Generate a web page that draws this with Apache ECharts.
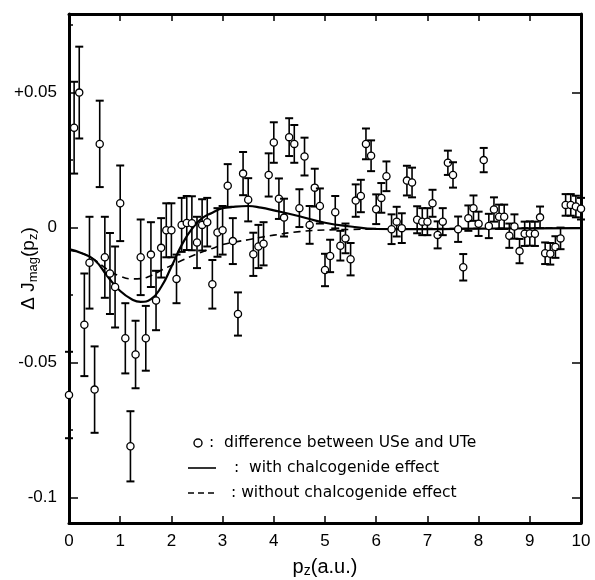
<!DOCTYPE html>
<html>
<head>
<meta charset="utf-8">
<script src="https://cdn.jsdelivr.net/npm/echarts@6/dist/echarts.min.js"></script>
<style>
  html, body { margin: 0; padding: 0; background: #fff; }
  #chart { width: 595px; height: 580px; }
</style>
</head>
<body>
<div id="chart"></div>
<script>
// measured points: p_z, delta J, error
const pz = [
  0.0, 0.1, 0.2, 0.3, 0.4, 0.5, 0.6, 0.7, 0.8, 0.9,
  1.0, 1.1, 1.2, 1.3, 1.4, 1.5, 1.6, 1.7, 1.8, 1.9,
  2.0, 2.1, 2.2, 2.3, 2.4, 2.5, 2.6, 2.7, 2.8, 2.9,
  3.0, 3.1, 3.2, 3.3, 3.4, 3.5, 3.6, 3.7, 3.8, 3.9,
  4.0, 4.1, 4.2, 4.3, 4.4, 4.5, 4.6, 4.7, 4.8, 4.9,
  5.0, 5.1, 5.2, 5.3, 5.4, 5.5, 5.6, 5.7, 5.8, 5.9,
  6.0, 6.1, 6.2, 6.3, 6.4, 6.5, 6.6, 6.7, 6.8, 6.9,
  7.0, 7.1, 7.2, 7.3, 7.4, 7.5, 7.6, 7.7, 7.8, 7.9,
  8.0, 8.1, 8.2, 8.3, 8.4, 8.5, 8.6, 8.7, 8.8, 8.9,
  9.0, 9.1, 9.2, 9.3, 9.4, 9.5, 9.6, 9.7, 9.8, 9.9,
  10.0
]
const diffJ = [
  -0.062, 0.037, 0.050, -0.036, -0.013, -0.060, 0.031, -0.011, -0.017, -0.022,
  0.009, -0.041, -0.081, -0.047, -0.011, -0.041, -0.010, -0.027, -0.0075, -0.001,
  -0.001, -0.019, 0.001, 0.0017, 0.0016, -0.0055, 0.001, 0.002, -0.021, -0.0018,
  -0.001, 0.0155, -0.005, -0.032, 0.020, 0.0103, -0.0099, -0.007, -0.006, 0.0195,
  0.0315, 0.0107, 0.0037, 0.0335, 0.031, 0.0072, 0.0263, 0.001, 0.0148, 0.008,
  -0.0157, -0.0105, 0.0057, -0.0067, -0.004, -0.0117, 0.010, 0.0117, 0.031, 0.0266,
  0.0068, 0.011, 0.019, -0.0006, 0.0022, -0.0002, 0.0174, 0.0167, 0.0029, 0.0022,
  0.0022, 0.009, -0.0027, 0.0022, 0.024, 0.0195, -0.0006, -0.0147, 0.0035, 0.0072,
  0.0014, 0.025, 0.0006, 0.0067, 0.004, 0.004, -0.003, 0.0004, -0.0087, -0.0023,
  -0.0022, -0.0023, 0.0038, -0.0095, -0.0097, -0.0072, -0.004, 0.0084, 0.0084, 0.0078,
  0.007
]
const errJ = [
  0.016, 0.017, 0.017, 0.019, 0.017, 0.016, 0.016, 0.015, 0.015, 0.015,
  0.014, 0.013, 0.013, 0.0125, 0.014, 0.012, 0.012, 0.011, 0.011, 0.010,
  0.010, 0.009, 0.010, 0.010, 0.010, 0.0095, 0.0095, 0.009, 0.009, 0.009,
  0.009, 0.008, 0.0085, 0.008, 0.008, 0.008, 0.008, 0.008, 0.008, 0.008,
  0.0075, 0.0075, 0.007, 0.007, 0.007, 0.007, 0.007, 0.007, 0.007, 0.0065,
  0.006, 0.006, 0.006, 0.0055, 0.0055, 0.006, 0.006, 0.006, 0.0057, 0.0057,
  0.0055, 0.0055, 0.0055, 0.0055, 0.0055, 0.0055, 0.0055, 0.0055, 0.005, 0.005,
  0.005, 0.005, 0.005, 0.005, 0.0045, 0.0047, 0.0047, 0.0049, 0.0047, 0.0047,
  0.0045, 0.0045, 0.0045, 0.0045, 0.0045, 0.0045, 0.0045, 0.0045, 0.0045, 0.0045,
  0.0045, 0.0045, 0.004, 0.004, 0.004, 0.004, 0.004, 0.004, 0.004, 0.004,
  0.004
]

// theory curves
const curveX = [0, 0.25, 0.5, 0.75, 1.0, 1.25, 1.4, 1.6, 1.8, 2.0, 2.2, 2.4, 2.6, 2.8, 3.0, 3.25, 3.5, 3.75, 4.0, 4.5, 5.0, 5.5, 6.0, 7.0, 8.0, 9.0, 10.0]
const withChalc = [-0.008, -0.0095, -0.012, -0.018, -0.0235, -0.0268, -0.0275, -0.0265, -0.022, -0.0145, -0.0065, -0.0005, 0.0035, 0.0055, 0.0072, 0.0078, 0.008, 0.0074, 0.0064, 0.0042, 0.0018, 0.0004, -0.0005, -0.0006, -0.0004, -0.0003, -0.0002]
const withoutChalc = [-0.0085, -0.0095, -0.012, -0.0155, -0.018, -0.019, -0.0189, -0.0178, -0.0158, -0.014, -0.0122, -0.0105, -0.009, -0.0077, -0.0063, -0.0053, -0.0045, -0.0036, -0.0028, -0.0015, -0.0009, -0.0007, -0.0005, -0.0004, -0.0003, -0.0002, -0.0002]

const yTicks = [-0.1, -0.05, 0, 0.05]
const yMinorTicks = [-0.075, -0.025, 0.025, 0.075]

const chart = echarts.init(document.getElementById('chart'), null, { renderer: 'canvas' })

function errorBar(params, api) {
  const x = api.value(0)
  const y = api.value(1)
  const e = api.value(2)
  const c = api.coord([x, y])
  const hi = api.coord([x, y + e])
  const lo = api.coord([x, y - e])
  const w = 4
  return {
    type: 'group',
    children: [
      { type: 'line', shape: { x1: c[0], y1: hi[1], x2: c[0], y2: lo[1] }, style: { stroke: '#000', lineWidth: 1.6 } },
      { type: 'line', shape: { x1: c[0] - w, y1: hi[1], x2: c[0] + w, y2: hi[1] }, style: { stroke: '#000', lineWidth: 2 } },
      { type: 'line', shape: { x1: c[0] - w, y1: lo[1], x2: c[0] + w, y2: lo[1] }, style: { stroke: '#000', lineWidth: 2 } },
      { type: 'circle', shape: { cx: c[0], cy: c[1], r: 3.6 }, style: { fill: '#fff', stroke: '#000', lineWidth: 1.3 } }
    ]
  }
}

const axisLine = { show: true, onZero: false, lineStyle: { color: '#000', width: 3 } }
const fontFam = 'Liberation Sans, Arial, sans-serif'
const legendFont = 'DejaVu Sans, sans-serif'
const yMin = -0.1094
const yMax = 0.0791

chart.setOption({
  backgroundColor: '#fff',
  animation: false,
  grid: { left: 69, right: 14, top: 14, bottom: 57, outerBoundsMode: 'none', containLabel: false },
  xAxis: [
    {
      type: 'value', min: 0, max: 10, interval: 1, position: 'bottom',
      axisLine,
      axisTick: { inside: true, length: 7, lineStyle: { color: '#000', width: 1.5 } },
      axisLabel: { color: '#000', fontSize: 17, fontFamily: fontFam, margin: 10 },
      splitLine: { show: false },
      name: '{a|p}{s|z}{a|(a.u.)}',
      nameLocation: 'middle',
      nameGap: 33,
      nameMoveOverlap: false,
      nameTextStyle: {
        rich: {
          a: { fontSize: 20, fontFamily: fontFam, color: '#000', lineHeight: 22 },
          s: { fontSize: 14, fontFamily: fontFam, color: '#000', lineHeight: 14, verticalAlign: 'bottom' }
        }
      }
    },
    {
      type: 'value', min: 0, max: 10, interval: 1, position: 'top',
      axisLine,
      axisTick: { inside: true, length: 7, lineStyle: { color: '#000', width: 1.5 } },
      axisLabel: { show: false },
      splitLine: { show: false }
    }
  ],
  yAxis: [
    {
      type: 'value', min: yMin, max: yMax, position: 'left',
      axisLine,
      axisTick: { inside: true, length: 9, customValues: yTicks, lineStyle: { color: '#000', width: 1.5 } },
      axisLabel: {
        color: '#000', fontSize: 17, fontFamily: fontFam, margin: 12,
        customValues: yTicks,
        formatter: v => (v > 0 ? '+' : '') + (Math.abs(v) < 1e-9 ? '0' : String(+v.toFixed(3)))
      },
      splitLine: { show: false },
      name: '{a|Δ J}{s|mag}{a|(p}{s|z}{a|)}',
      nameLocation: 'middle',
      nameRotate: 90,
      nameGap: 29,
      nameMoveOverlap: false,
      nameTextStyle: {
        rich: {
          a: { fontSize: 19, fontFamily: fontFam, color: '#000', lineHeight: 22 },
          s: { fontSize: 13, fontFamily: fontFam, color: '#000', lineHeight: 13, verticalAlign: 'bottom' }
        }
      }
    },
    {
      type: 'value', min: yMin, max: yMax, position: 'right',
      axisLine,
      axisTick: { inside: true, length: 9, customValues: yTicks, lineStyle: { color: '#000', width: 1.5 } },
      axisLabel: { show: false },
      splitLine: { show: false }
    },
    {
      type: 'value', min: yMin, max: yMax, position: 'left',
      axisLine: { show: false, onZero: false },
      axisTick: { inside: true, length: 4, customValues: yMinorTicks, lineStyle: { color: '#000', width: 1.5 } },
      axisLabel: { show: false },
      splitLine: { show: false }
    }
  ],
  series: [
    {
      name: 'with chalcogenide effect',
      type: 'line',
      data: curveX.map((x, i) => [x, withChalc[i]]),
      smooth: 0.5,
      showSymbol: false,
      lineStyle: { color: '#000', width: 2.2 },
      z: 2
    },
    {
      name: 'without chalcogenide effect',
      type: 'line',
      data: curveX.map((x, i) => [x, withoutChalc[i]]),
      smooth: 0.5,
      showSymbol: false,
      lineStyle: { color: '#000', width: 1.6, type: [7, 5] },
      z: 2
    },
    {
      name: 'difference between USe and UTe',
      type: 'custom',
      renderItem: errorBar,
      data: pz.map((x, i) => [x, diffJ[i], errJ[i]]),
      clip: false,
      z: 5
    }
  ],
  graphic: [
    { type: 'circle', shape: { cx: 198, cy: 443, r: 4 }, style: { fill: '#fff', stroke: '#000', lineWidth: 1.4 }, z: 10 },
    { type: 'text', x: 209, y: 443, style: { text: ':  difference between USe and UTe', fontSize: 15.5, fontFamily: legendFont, fill: '#000', verticalAlign: 'middle' }, z: 10 },
    { type: 'line', shape: { x1: 188, y1: 468, x2: 216, y2: 468 }, style: { stroke: '#000', lineWidth: 1.6 }, z: 10 },
    { type: 'text', x: 234, y: 468, style: { text: ':  with chalcogenide effect', fontSize: 15.5, fontFamily: legendFont, fill: '#000', verticalAlign: 'middle' }, z: 10 },
    { type: 'line', shape: { x1: 188, y1: 493, x2: 218, y2: 493 }, style: { stroke: '#000', lineWidth: 1.6, lineDash: [6, 4] }, z: 10 },
    { type: 'text', x: 231, y: 493, style: { text: ': without chalcogenide effect', fontSize: 15.5, fontFamily: legendFont, fill: '#000', verticalAlign: 'middle' }, z: 10 }
  ]
})
</script>
</body>
</html>
